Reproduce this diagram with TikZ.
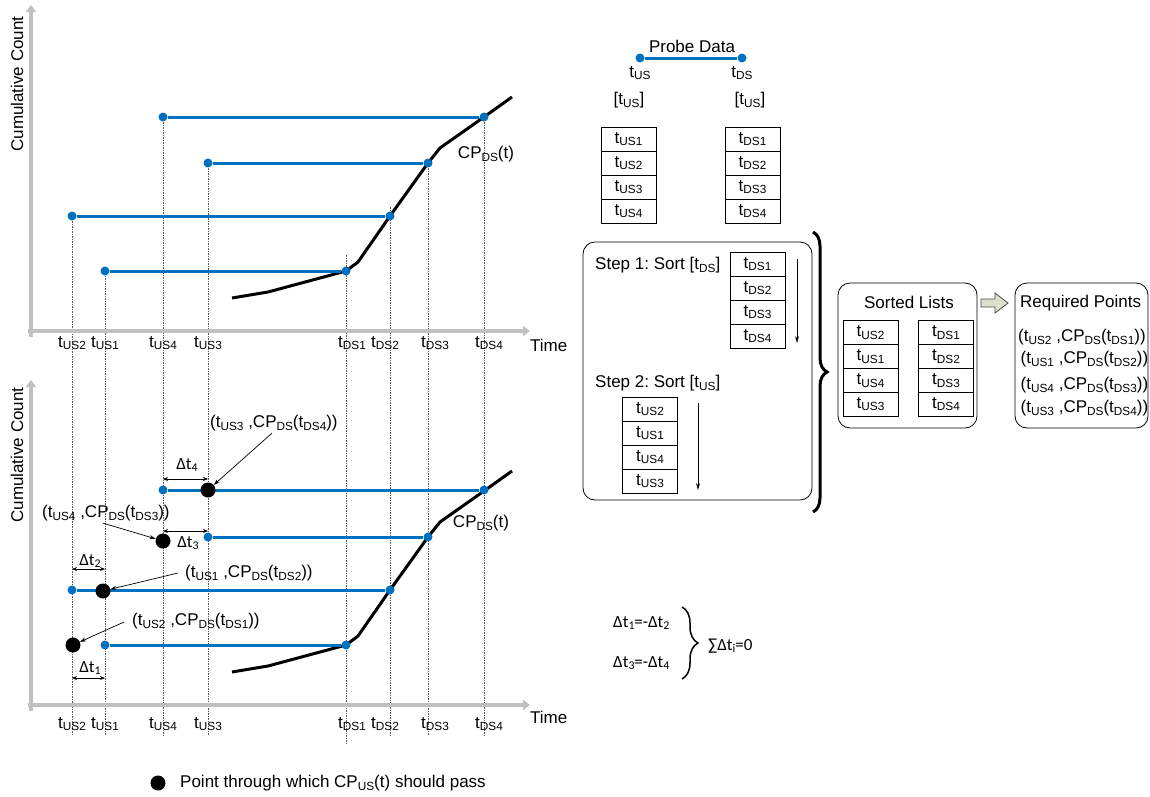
\documentclass[tikz,border=0pt]{standalone}
\usepackage{fontspec}
\setmainfont{Liberation Sans}
\newfontfamily\calfont{Carlito}
\usetikzlibrary{arrows.meta,decorations.pathreplacing,calc}
\definecolor{probeblue}{HTML}{0070C0}
\definecolor{axisgray}{HTML}{C0C0C0}
\definecolor{hollowfill}{HTML}{DDE0CC}
\frenchspacing
\newcommand{\fs}{\fontsize{17}{19}\selectfont}
\newcommand{\lo}[1]{\raisebox{-2.6pt}{\fontsize{11.8}{12}\selectfont #1}}
\newcommand{\tus}[1]{t\lo{US#1}}
\newcommand{\tds}[1]{t\lo{DS#1}}
\newcommand{\cpds}{CP\lo{DS}}
\newcommand{\dlt}[1]{{\calfont Δt\lo{#1}}}
\begin{document}
\begin{tikzpicture}[x=1pt,y=-1pt,
  font=\fs,
  lbl/.style={inner sep=0pt},
  axisline/.style={draw=axisgray,line width=4pt,-{Triangle[length=7pt,width=10pt]}},
  guide/.style={draw=black!65,line width=0.5pt,dash pattern=on 1.5pt off 1pt},
  probe/.style={draw=probeblue,line width=3pt},
  pdot/.style={circle,fill=probeblue,inner sep=0pt,minimum size=9pt},
  bigdot/.style={circle,fill=black,inner sep=0pt,minimum size=15pt},
  cpcurve/.style={line width=3pt,line join=round},
  cell/.style={draw,line width=0.8pt,fill=white,minimum width=55pt,minimum height=24pt,inner sep=0pt},
  panel/.style={draw,line width=0.8pt,rounded corners=12pt},
  callout/.style={line width=0.7pt,-{Stealth[length=6pt,width=4pt]}},
  span/.style={line width=0.7pt,{Stealth[length=5pt,width=4pt]}-{Stealth[length=5pt,width=4pt]}},
  sortarrow/.style={line width=0.8pt,-{Stealth[length=7pt,width=4pt]}}]
\useasboundingbox (0,0) rectangle (1150,796);

% ---------- guide lines shared by both charts ----------
\foreach \gx/\gy/\gb in {72/216/735,105/268/735,163/117/735,208/163/735,346/255/743,390/207/735,428/163/735,484/117/735}
  \draw[guide] (\gx,\gy) -- (\gx,\gb);

% ---------- axes, labels and CP_DS curve of both charts ----------
\foreach \o/\ytop/\tl/\ty in {0/5/345/343,374/380/717/724}{
  \draw[axisline] (31,337+\o) -- (31,\ytop);
  \draw[axisline] (28,331+\o) -- (530,331+\o);
  \draw[cpcurve] (232,298+\o) -- (268,292+\o) -- (346,271+\o) -- (358,262+\o)
     -- (390,216+\o) -- (428,163+\o) -- (440,148+\o) -- (484,117+\o) -- (512,97+\o);
  \node[lbl,anchor=west] at (530,\tl) {Time};
  \foreach \lx/\lt in {72/\tus{2},105/\tus{1},163/\tus{4},208/\tus{3},352/\tds{1},385/\tds{2},435/\tds{3},489/\tds{4}}
    \node[lbl] at (\lx,\ty) {\lt};
}
\node[lbl,rotate=90] (ylabA) at (17,84) {Cumulative Count};
\node[lbl,rotate=90] (ylabB) at (17,455) {Cumulative Count};
\node[lbl] (cpA) at (486,154) {\cpds(t)};
\node[lbl] (cpB) at (481,523) {\cpds(t)};

% ---------- top chart: probe pairs ----------
\foreach \n/\ux/\dx/\yy in {4/163/484/117,3/208/428/163,2/72/390/216,1/105/346/271}{
  \node[pdot] (aU\n) at (\ux,\yy) {};
  \node[pdot] (aD\n) at (\dx,\yy) {};
  \draw[probe] (aU\n) -- (aD\n);
}

% ---------- bottom chart: probe pairs ----------
\foreach \n/\ux/\dx/\yy in {4/163/484/490,3/208/428/537,2/72/390/590,1/105/346/645}{
  \node[pdot] (bU\n) at (\ux,\yy) {};
  \node[pdot] (bD\n) at (\dx,\yy) {};
  \draw[probe] (bU\n) -- (bD\n);
}
% points the upstream curve must pass through
\node[bigdot] (k3) at (208,490) {};
\node[bigdot] (k4) at (163,541) {};
\node[bigdot] (k1) at (103,591) {};
\node[bigdot] (k2) at (73,645) {};

% callouts
\node[lbl,anchor=west] (cUS3) at (210,423) {(\tus{3} ,\cpds(\tds{4}))};
\draw[callout] ($(cUS3.south west)+(62,2)$) -- (k3);
\node[lbl,anchor=west] (cUS4) at (42,513) {(\tus{4} ,\cpds(\tds{3}))};
\draw[callout] ($(cUS4.south west)+(61,2)$) -- (k4);
\node[lbl,anchor=west] (cUS1) at (185,573) {(\tus{1} ,\cpds(\tds{2}))};
\draw[callout] ($(cUS1.west)+(-7,0)$) -- (k1);
\node[lbl,anchor=west] (cUS2) at (132,621) {(\tus{2} ,\cpds(\tds{1}))};
\draw[callout] ($(cUS2.west)+(-8,1)$) -- (k2);

% time offsets
\draw[span] (163,479) -- (208,479);
\node[lbl] (d4) at (187,465) {\dlt{4}};
\draw[span] (163,531) -- (208,531);
\node[lbl] (d3) at (188,543) {\dlt{3}};
\draw[span] (72,569) -- (105,569);
\node[lbl] (d2) at (90,561) {\dlt{2}};
\draw[span] (72,678) -- (105,678);
\node[lbl] (d1) at (90,668) {\dlt{1}};

% legend
\node[bigdot] (legdot) at (158,783) {};
\node[lbl,anchor=west] (legtxt) at (180,783) {Point through which CP\lo{US}(t) should pass};

% ---------- probe data ----------
\node[lbl] (probe) at (692,46) {Probe Data};
\node[pdot] (pu) at (640,58) {};
\node[pdot] (pd) at (742,58) {};
\draw[probe] (pu) -- (pd);
\node[lbl] (puL) at (640,73) {t\lo{US}};
\node[lbl] (pdL) at (742,73) {t\lo{DS}};
\node[lbl] (listU) at (629,100) {[t\lo{US}]};
\node[lbl] (listD) at (750,100) {[t\lo{US}]};
\foreach \lt [count=\i] in {1,2,3,4}{
  \node[cell] (rawU\i) at (628.5,115+24*\i) {\tus{\lt}};
  \node[cell] (rawD\i) at (752.5,115+24*\i) {\tds{\lt}};
}

% ---------- sorting steps ----------
\draw[panel] (583,242) rectangle (812,500);
\node[lbl,anchor=west] (step1) at (595,265) {Step 1: Sort [t\lo{DS}]};
\foreach \lt [count=\i] in {1,2,3,4}
  \node[cell] (s1\i) at (757.5,240+24*\i) {\tds{\lt}};
\coordinate (s1top) at (797,259);
\coordinate (s1bot) at (797,343);
\draw[sortarrow] (s1top) -- (s1bot);
\node[lbl,anchor=west] (step2) at (595,383) {Step 2: Sort [t\lo{US}]};
\foreach \lt [count=\i] in {2,1,4,3}
  \node[cell] (s2\i) at (650,385+24*\i) {\tus{\lt}};
\coordinate (s2top) at (698,403);
\coordinate (s2bot) at (698,490);
\draw[sortarrow] (s2top) -- (s2bot);
\draw[line width=3pt,decorate,decoration={brace,amplitude=14pt}] (813,232) -- (813,512);

% ---------- sorted lists ----------
\draw[panel] (838,283) rectangle (977,428);
\node[lbl] (sortedT) at (909,302) {Sorted Lists};
\foreach \lu/\ld [count=\i] in {2/1,1/2,4/3,3/4}{
  \node[cell] (sU\i) at (870.5,309+23.8*\i) {\tus{\lu}};
  \node[cell] (sD\i) at (946,309+23.8*\i) {\tds{\ld}};
}
\draw[line width=0.8pt,draw=black!70,fill=hollowfill]
  (981,299) -- (995,299) -- (995,293) -- (1008,303) -- (995,313) -- (995,307) -- (981,307) -- cycle;

% ---------- required points ----------
\draw[panel] (1015,283) rectangle (1148,428);
\node[lbl,anchor=west] (reqT) at (1020,303) {Required Points};
\node[lbl,anchor=west] (r1) at (1018,337) {(\tus{2} ,\cpds(\tds{1}))};
\node[lbl,anchor=west] (r2) at (1020.5,359) {(\tus{1} ,\cpds(\tds{2}))};
\node[lbl,anchor=west] (r3) at (1020.5,385) {(\tus{4} ,\cpds(\tds{3}))};
\node[lbl,anchor=west] (r4) at (1020.5,408) {(\tus{3} ,\cpds(\tds{4}))};

% ---------- offset sums ----------
\node[lbl,anchor=west] (eq1) at (613,623) {{\calfont Δt\lo{1}=-Δt\lo{2}}};
\node[lbl,anchor=west] (eq2) at (613,663) {{\calfont Δt\lo{3}=-Δt\lo{4}}};
\draw[line width=1.5pt,decorate,decoration={brace,amplitude=16pt}] (682,607) -- (682,679);
\node[lbl,anchor=west] (eqsum) at (708,646) {{\calfont ∑Δt\lo{i}=0}};
\end{tikzpicture}
\end{document}
